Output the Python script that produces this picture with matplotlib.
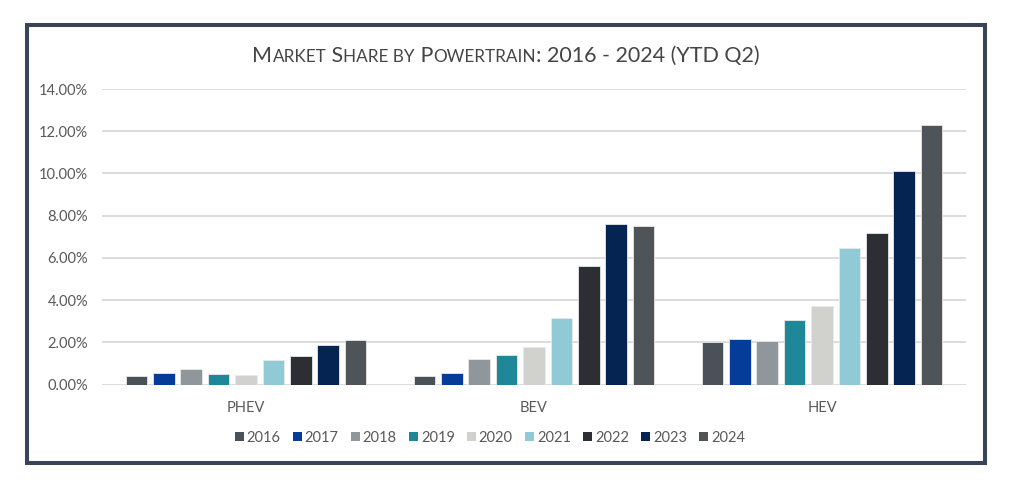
import matplotlib
matplotlib.use("Agg")
import matplotlib.pyplot as plt
from matplotlib.patches import Rectangle, Patch

plt.rcParams['font.family'] = ['Lato', 'DejaVu Sans']

categories = ["PHEV", "BEV", "HEV"]
years = ["2016", "2017", "2018", "2019", "2020", "2021", "2022", "2023", "2024"]
phev = [0.38, 0.56, 0.75, 0.51, 0.46, 1.14, 1.37, 1.86, 2.10]
bev = [0.40, 0.56, 1.22, 1.41, 1.78, 3.16, 5.63, 7.62, 7.52]
hev = [2.01, 2.16, 2.07, 3.05, 3.74, 6.47, 7.17, 10.12, 12.28]
colors = ["#4a5159", "#063c99", "#8f979b", "#1e8898", "#d1d2cd",
          "#90cad6", "#2b2f33", "#062452", "#4e5457"]
yticks = [0, 2, 4, 6, 8, 10, 12, 14]

W, H = 1024, 493
fig = plt.figure(figsize=(W / 100, H / 100), dpi=100)
fig.patch.set_facecolor("white")

# outer frame
fig.patches.append(Rectangle((27 / W, 1 - 463 / H), (985 - 27) / W, (463 - 25) / H,
                             transform=fig.transFigure, fill=False,
                             edgecolor="#3a4459", linewidth=2.9))

ax = fig.add_axes([102 / W, 1 - 384.5 / H, (966 - 102) / W, (384.5 - 89) / H])
ax.set_xlim(-0.5, 2.5)
ax.set_ylim(0, 14)

data = [phev, bev, hev]
slot = 0.095
bw = 0.0754
for i, yr in enumerate(years):
    vals = [d[i] for d in data]
    xs = [c + (i - 4) * slot for c in range(len(categories))]
    ax.bar(xs, vals, width=bw, color=colors[i], edgecolor="#e8e8e8",
           linewidth=0.6, zorder=3, label=yr)

ax.set_yticks(yticks)
ax.set_yticklabels([f"{v:.2f}%" for v in yticks])
ax.set_xticks(range(len(categories)))
ax.set_xticklabels(categories)
ax.grid(axis="y", color="#d9d9d9", linewidth=1.3, zorder=0)
for s in ax.spines.values():
    s.set_visible(False)
ax.tick_params(axis="y", length=0, pad=10, labelsize=10.5, labelcolor="#595959")
ax.tick_params(axis="x", length=0, pad=12, labelsize=10.5, labelcolor="#595959")

handles = [Patch(facecolor=c, edgecolor="none") for c in colors]
fig.legend(handles, years, loc="center", bbox_to_anchor=(490 / W, 1 - 438 / H),
           ncol=9, frameon=False, fontsize=10.5, labelcolor="#595959",
           handlelength=0.6, handleheight=0.6, handletextpad=0.2,
           columnspacing=0.85)

# small-caps title
pieces = [("M", True), ("ARKET", False), (" S", True), ("HARE BY", False),
          (" P", True), ("OWERTRAIN", False), (": 2016 - 2024 (YTD Q2)", True)]
big, small = 15.5, 12.3
texts = []
for s, b in pieces:
    t = fig.text(0, 1 - 62 / H, s, fontsize=big if b else small,
                 color="#454545", va="baseline", ha="left")
    texts.append(t)
fig.canvas.draw()
r = fig.canvas.get_renderer()
widths = [t.get_window_extent(r).width for t in texts]
total = sum(widths)
x = 506 - total / 2
for t, w in zip(texts, widths):
    t.set_x(x / W)
    x += w

fig.savefig("out.png", dpi=100, facecolor="white")
